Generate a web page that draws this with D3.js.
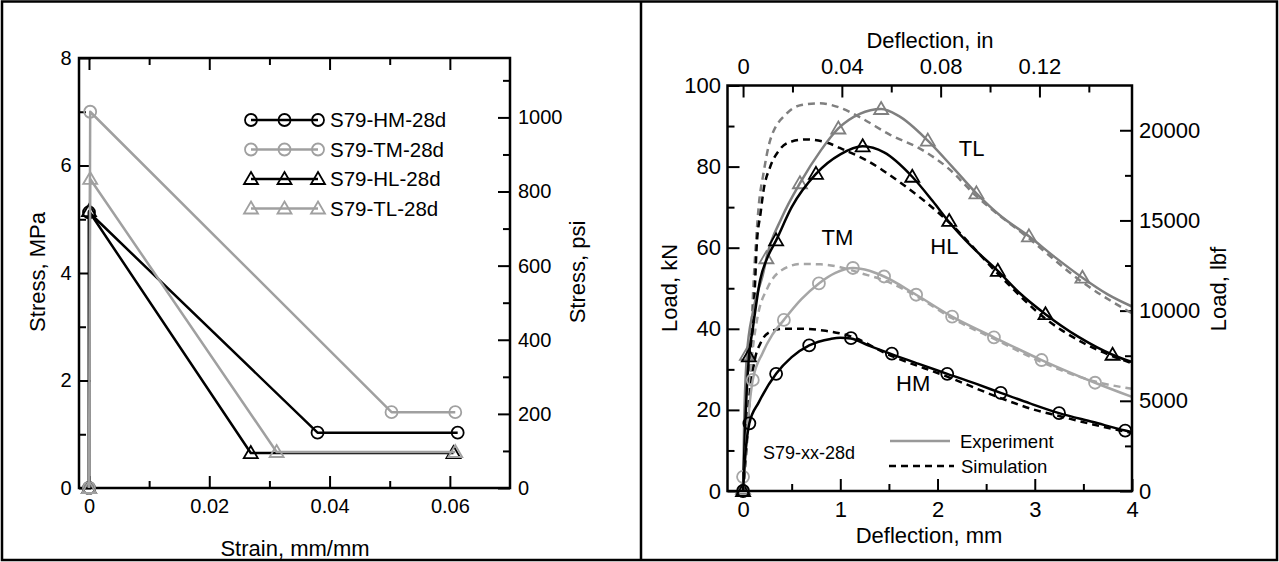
<!DOCTYPE html>
<html>
<head>
<meta charset="utf-8">
<script src="https://cdn.jsdelivr.net/npm/d3@7"></script>
<style>
    body { margin: 0; background: #fff; }
    svg { display: block; font-family: "Liberation Sans", Arial, sans-serif; }
</style>
</head>
<body>
<div id="Figure"></div>
<script>
// left panel: stress vs strain (MPa, mm/mm)
var hmStress = [[0, 0], [0, 5.13], [0.038, 1.03], [0.0613, 1.03]];
var tmStress = [[0, 0], [0.0002, 7.0], [0.0503, 1.41], [0.0609, 1.41]];
var hlStress = [[0, 0], [0, 5.15], [0.0269, 0.65], [0.0606, 0.65]];
var tlStress = [[0, 0], [0.0002, 5.75], [0.0312, 0.67], [0.0609, 0.67]];
var stressLegend = ['S79-HM-28d', 'S79-TM-28d', 'S79-HL-28d', 'S79-TL-28d'];

var strainTicks = [0, 0.02, 0.04, 0.06];
var strainMinor = [0.01, 0.03, 0.05];
var stressTicks = [0, 2, 4, 6, 8];
var stressMinor = [1, 3, 5, 7];
var psiTicks = [0, 200, 400, 600, 800, 1000];
var psiMinor = [100, 300, 500, 700, 900, 1100];

// right panel: load vs deflection (kN, mm)
var hmExp = [[0, 0], [0.02, 8], [0.065, 16.7], [0.16, 21.8], [0.34, 28.9], [0.5, 33], [0.68, 35.9], [0.9, 37.5], [1.0, 37.8],
    [1.11, 37.6], [1.3, 35.8], [1.52, 33.8], [1.8, 31.4], [2.1, 28.9], [2.4, 26.4], [2.65, 24.2], [2.95, 21.6], [3.25, 19.2],
    [3.6, 17], [3.93, 14.9], [4.0, 14.5]];
var hmMarks = [[0, 0], [0.065, 16.7], [0.34, 28.9], [0.68, 35.9], [1.11, 37.7], [1.53, 33.9], [2.1, 28.9], [2.65, 24.2], [3.25, 19.2], [3.93, 14.9]];
var hmSim = [[0, 0], [0.04, 16], [0.08, 26], [0.12, 32.3], [0.18, 36.5], [0.26, 39], [0.4, 40], [0.6, 40], [0.85, 39.5],
    [1.1, 38.2], [1.5, 33.6], [2.1, 28.2], [2.64, 23], [3.0, 20], [3.25, 18.5], [3.6, 16.4], [4.0, 14.3]];

var tmExp = [[0, 0], [0.01, 3.5], [0.05, 17], [0.1, 27.4], [0.2, 34], [0.3, 38.5], [0.42, 42.2], [0.6, 47.3], [0.78, 51.2],
    [0.95, 53.8], [1.13, 55], [1.3, 54.3], [1.45, 52.9], [1.78, 48.4], [2.15, 43], [2.58, 37.9], [3.07, 32.3], [3.62, 26.7], [4.0, 23.2]];
var tmMarks = [[0, 3.5], [0.1, 27.4], [0.42, 42.2], [0.78, 51.2], [1.13, 55], [1.45, 52.9], [1.78, 48.4], [2.15, 43], [2.58, 37.9], [3.07, 32.3], [3.62, 26.7]];
var tmSim = [[0, 0], [0.05, 20], [0.1, 35], [0.15, 43], [0.25, 50], [0.4, 54.5], [0.6, 56], [0.8, 55.9], [1.0, 55.2], [1.2, 53.8],
    [1.5, 51.5], [1.8, 47.8], [2.15, 42.6], [2.6, 37.3], [3.07, 31.8], [3.62, 27], [4.0, 25.2]];

var hlExp = [[0, 0], [0.02, 15], [0.06, 33], [0.1, 40], [0.175, 52], [0.25, 57.5], [0.34, 61.8], [0.5, 70], [0.75, 78.2], [1.0, 83],
    [1.23, 85], [1.45, 83.5], [1.74, 77.5], [1.95, 71.5], [2.11, 66.6], [2.35, 60.3], [2.62, 54.3], [2.85, 48.7], [3.11, 43.6],
    [3.45, 38], [3.8, 33.6], [4.0, 31.8]];
var hlMarks = [[0, 0], [0.06, 33.2], [0.34, 61.8], [0.75, 78.2], [1.23, 85], [1.74, 77.5], [2.12, 66.6], [2.62, 54.3], [3.11, 43.6], [3.8, 33.6]];
var hlSim = [[0, 0], [0.06, 20], [0.1, 40], [0.125, 52], [0.14, 60.3], [0.18, 68.5], [0.21, 74], [0.28, 80], [0.37, 84], [0.5, 86.2],
    [0.65, 86.7], [0.85, 86], [1.05, 84], [1.25, 81.8], [1.62, 76], [2.13, 66], [2.62, 53.6], [3.11, 42.5], [3.5, 36.5], [4.0, 31.5]];

var tlExp = [[0, 0], [0.01, 15], [0.04, 33.6], [0.1, 44], [0.21, 54], [0.24, 57.4], [0.4, 67.5], [0.585, 75.9], [0.8, 84], [0.98, 89.4],
    [1.2, 93], [1.42, 94.2], [1.6, 92.5], [1.9, 86.4], [2.15, 80], [2.4, 73.4], [2.65, 67.8], [2.94, 62.8], [3.2, 57.8],
    [3.49, 52.6], [3.75, 48.5], [4.0, 45.5]];
var tlMarks = [[0, 0.5], [0.04, 33.6], [0.24, 57.4], [0.585, 75.9], [0.98, 89.4], [1.42, 94.2], [1.9, 86.4], [2.4, 73.4], [2.94, 62.8], [3.49, 52.6]];
var tlSim = [[0, 0], [0.05, 20], [0.09, 42], [0.11, 52.2], [0.135, 62], [0.16, 70], [0.21, 78.3], [0.28, 86.6], [0.45, 93.1], [0.6, 95.2],
    [0.79, 95.6], [1.0, 94.5], [1.2, 92.2], [1.5, 88], [1.85, 84], [2.1, 79.8], [2.4, 72.7], [2.94, 62.3], [3.49, 51.5], [4.0, 43.8]];

var deflTicks = [0, 1, 2, 3, 4];
var deflMinor = [0.5, 1.5, 2.5, 3.5];
var inchTicks = [0, 0.04, 0.08, 0.12];
var inchMinor = [0.02, 0.06, 0.1, 0.14];
var loadTicks = [0, 20, 40, 60, 80, 100];
var loadMinor = [10, 30, 50, 70, 90];
var lbfTicks = [0, 5000, 10000, 15000, 20000];
var lbfMinor = [2500, 7500, 12500, 17500];
var curveLabels = [['TL', 2.35, 84.5], ['HL', 2.07, 60.5], ['TM', 0.97, 62.7], ['HM', 1.75, 26.5]];

var BLACK = '#000';
var LIGHT = '#a6a6a6';
var MID = '#7f7f7f';

var svg = d3.select('#Figure').append('svg').attr('width', 1279).attr('height', 562);

svg.append('rect').attr('x', 2).attr('y', 1.5).attr('width', 1275).attr('height', 558.5)
    .attr('fill', 'none').attr('stroke', '#000').attr('stroke-width', 2.5);
svg.append('line').attr('x1', 641).attr('x2', 641).attr('y1', 1).attr('y2', 561)
    .attr('stroke', '#000').attr('stroke-width', 2.5);

function triangle(cx, cy) {
    return 'M' + cx + ',' + (cy - 7) + 'L' + (cx + 7) + ',' + (cy + 5) + 'L' + (cx - 7) + ',' + (cy + 5) + 'Z';
}

function drawAxis(g, axis, major, minor, pad, size) {
    var a = g.append('g').call(axis.tickValues(major).tickSize(-12).tickPadding(pad).tickFormat(function (d) { return String(d); }));
    a.select('.domain').remove();
    a.selectAll('line').attr('stroke-width', 2);
    a.selectAll('text').attr('font-size', size).attr('font-family', null).attr('fill', '#000');
    var b = g.append('g').call(axis.tickValues(minor).tickSize(-7).tickFormat(''));
    b.select('.domain').remove();
    b.selectAll('line').attr('stroke-width', 2);
    return a;
}

function markers(g, pts, x, y, color, shape) {
    g.selectAll(null).data(pts).enter().append('path')
        .attr('d', function (d) {
            if (shape === 'tri') return triangle(x(d[0]), y(d[1]));
            return d3.symbol(d3.symbolCircle, Math.PI * 36)();
        })
        .attr('transform', function (d) { return shape === 'tri' ? null : 'translate(' + x(d[0]) + ',' + y(d[1]) + ')'; })
        .attr('fill', 'none').attr('stroke', color).attr('stroke-width', 1.8);
}

function rotLabel(txt, x, y) {
    svg.append('text').attr('transform', 'translate(' + x + ',' + y + ') rotate(-90)')
        .attr('text-anchor', 'middle').attr('font-size', 22).text(txt);
}

// ---- left panel
var xs = d3.scaleLinear().domain([-0.00166, 0.07]).range([79, 510]);
var ys = d3.scaleLinear().domain([0, 8]).range([488, 58]);
var yPsi = d3.scaleLinear().domain([0, 8 * 145.038]).range([488, 58]);

var left = svg.append('g');
drawAxis(left.append('g').attr('transform', 'translate(0,488)'), d3.axisBottom(xs), strainTicks, strainMinor, 11, 20);
drawAxis(left.append('g').attr('transform', 'translate(0,58)'), d3.axisTop(xs), strainTicks, strainMinor, 12, 20).selectAll('text').remove();
drawAxis(left.append('g').attr('transform', 'translate(79,0)'), d3.axisLeft(ys), stressTicks, stressMinor, 7.5, 20);
drawAxis(left.append('g').attr('transform', 'translate(510,0)'), d3.axisRight(yPsi), psiTicks, psiMinor, 8, 20);
left.append('rect').attr('x', 79).attr('y', 58).attr('width', 431).attr('height', 430)
    .attr('fill', 'none').attr('stroke', '#000').attr('stroke-width', 2.5);

var straight = d3.line().x(function (d) { return xs(d[0]); }).y(function (d) { return ys(d[1]); });
var stressSeries = [
    { pts: hmStress, color: BLACK, shape: 'circ' },
    { pts: tmStress, color: '#a0a0a0', shape: 'circ' },
    { pts: hlStress, color: BLACK, shape: 'tri' },
    { pts: tlStress, color: '#a0a0a0', shape: 'tri' }
];
stressSeries.forEach(function (s) {
    left.append('path').attr('d', straight(s.pts)).attr('fill', 'none')
        .attr('stroke', s.color).attr('stroke-width', 2.5).attr('stroke-linejoin', 'round');
    markers(left, s.pts, xs, ys, s.color, s.shape);
});

stressSeries.forEach(function (s, i) {
    var yy = 120 + i * 29.5;
    left.append('line').attr('x1', 251).attr('x2', 318).attr('y1', yy).attr('y2', yy)
        .attr('stroke', s.color).attr('stroke-width', 2.5);
    var lx = d3.scaleLinear().domain([0, 1]).range([251, 318]);
    var ly = function () { return yy; };
    markers(left, [[0, 0], [0.5, 0], [1, 0]], lx, ly, s.color, s.shape);
    left.append('text').attr('x', 330).attr('y', yy).attr('dy', '0.36em')
        .attr('font-size', 20.5).text(stressLegend[i]);
});

rotLabel('Stress, MPa', 45, 272);
rotLabel('Stress, psi', 585, 272);
svg.append('text').attr('x', 295).attr('y', 556).attr('text-anchor', 'middle').attr('font-size', 22).text('Strain, mm/mm');

// ---- right panel
var xd = d3.scaleLinear().domain([-0.16, 4]).range([727.5, 1132]);
var xin = d3.scaleLinear().domain([-0.16 / 25.4, 4 / 25.4]).range([727.5, 1132]);
var yl = d3.scaleLinear().domain([0, 100]).range([491, 85.5]);
var ylbf = d3.scaleLinear().domain([0, 100 * 224.809]).range([491, 85.5]);

var right = svg.append('g');
drawAxis(right.append('g').attr('transform', 'translate(0,491)'), d3.axisBottom(xd), deflTicks, deflMinor, 10, 22);
drawAxis(right.append('g').attr('transform', 'translate(0,85.5)'), d3.axisTop(xin), inchTicks, inchMinor, 12, 22);
drawAxis(right.append('g').attr('transform', 'translate(727.5,0)'), d3.axisLeft(yl), loadTicks, loadMinor, 6.5, 22);
drawAxis(right.append('g').attr('transform', 'translate(1132,0)'), d3.axisRight(ylbf), lbfTicks, lbfMinor, 7, 22);

var smooth = d3.line().curve(d3.curveMonotoneX)
    .x(function (d) { return xd(d[0]); }).y(function (d) { return yl(d[1]); });

var simSeries = [[tlSim, MID], [hlSim, BLACK], [tmSim, LIGHT], [hmSim, BLACK]];
simSeries.forEach(function (s) {
    right.append('path').attr('d', smooth(s[0])).attr('fill', 'none')
        .attr('stroke', s[1]).attr('stroke-width', 2.5).attr('stroke-dasharray', '7,5');
});

var expSeries = [
    { pts: tlExp, marks: tlMarks, color: MID, shape: 'tri' },
    { pts: hlExp, marks: hlMarks, color: BLACK, shape: 'tri' },
    { pts: tmExp, marks: tmMarks, color: LIGHT, shape: 'circ' },
    { pts: hmExp, marks: hmMarks, color: BLACK, shape: 'circ' }
];
expSeries.forEach(function (s) {
    right.append('path').attr('d', smooth(s.pts)).attr('fill', 'none')
        .attr('stroke', s.color).attr('stroke-width', 2.5);
    markers(right, s.marks, xd, yl, s.color, s.shape);
});

right.append('rect').attr('x', 727.5).attr('y', 85.5).attr('width', 404.5).attr('height', 405.5)
    .attr('fill', 'none').attr('stroke', '#000').attr('stroke-width', 2.5);

curveLabels.forEach(function (c) {
    right.append('text').attr('x', xd(c[1])).attr('y', yl(c[2])).attr('dy', '0.36em')
        .attr('text-anchor', 'middle').attr('font-size', 22).text(c[0]);
});

right.append('text').attr('x', 809).attr('y', 453).attr('dy', '0.36em')
    .attr('text-anchor', 'middle').attr('font-size', 18).text('S79-xx-28d');
right.append('line').attr('x1', 890).attr('x2', 950).attr('y1', 441).attr('y2', 441)
    .attr('stroke', '#999').attr('stroke-width', 2.5);
right.append('line').attr('x1', 889).attr('x2', 954).attr('y1', 466).attr('y2', 466)
    .attr('stroke', '#000').attr('stroke-width', 2.5).attr('stroke-dasharray', '7,5');
right.append('text').attr('x', 960).attr('y', 441).attr('dy', '0.36em').attr('font-size', 18.5).text('Experiment');
right.append('text').attr('x', 961).attr('y', 466).attr('dy', '0.36em').attr('font-size', 18.5).text('Simulation');

rotLabel('Load, kN', 677, 288);
rotLabel('Load, lbf', 1226, 289);
svg.append('text').attr('x', 929).attr('y', 543).attr('text-anchor', 'middle').attr('font-size', 22).text('Deflection, mm');
svg.append('text').attr('x', 930).attr('y', 48).attr('text-anchor', 'middle').attr('font-size', 22).text('Deflection, in');
</script>
</body>
</html>
